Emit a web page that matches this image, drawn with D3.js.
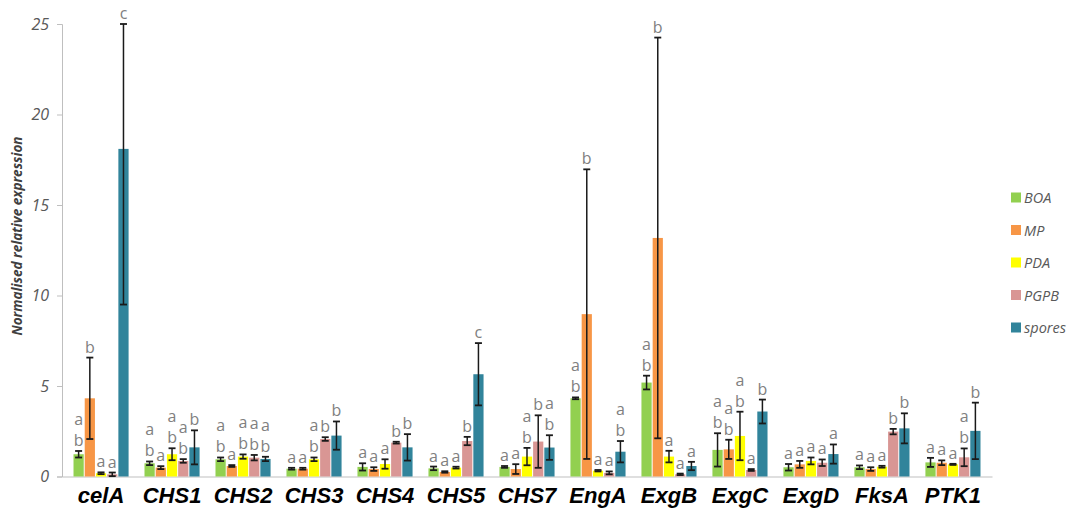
<!DOCTYPE html>
<html>
<head>
<meta charset="utf-8">
<script src="https://cdn.jsdelivr.net/npm/d3@7"></script>
<style>
  body { margin: 0; background: #fff; }
  svg { display: block; }
</style>
</head>
<body>
<svg id="chart" width="1069" height="515"></svg>
<script>
const categories = ["celA","CHS1","CHS2","CHS3","CHS4","CHS5","CHS7","EngA","ExgB","ExgC","ExgD","FksA","PTK1"];
const seriesNames = ["BOA","MP","PDA","PGPB","spores"];
const seriesColors = ["#92D050","#F79646","#FFFF00","#D99694","#31849B"];
const yTicks = [0,5,10,15,20,25];

// mean values per series (order of categories)
const BOA    = [1.23,0.73,0.95,0.43,0.53,0.45,0.53,4.32,5.19,1.47,0.51,0.51,0.78];
const MP     = [4.32,0.49,0.58,0.43,0.41,0.25,0.41,8.97,13.18,1.50,0.67,0.41,0.76];
const PDA    = [0.18,1.23,1.10,0.95,0.69,0.49,1.10,0.32,1.10,2.24,0.86,0.54,0.67];
const PGPB   = [0.12,0.86,1.04,2.07,1.87,1.96,1.93,0.20,0.12,0.36,0.76,2.48,1.06];
const spores = [18.10,1.61,0.97,2.26,1.61,5.65,1.60,1.37,0.58,3.59,1.24,2.66,2.52];

// error bar half-widths
const BOA_err    = [0.18,0.10,0.10,0.05,0.20,0.10,0.05,0.05,0.38,0.92,0.18,0.10,0.25];
const MP_err     = [2.25,0.08,0.05,0.05,0.10,0.04,0.27,8.00,11.07,0.53,0.19,0.10,0.13];
const PDA_err    = [0.05,0.33,0.12,0.10,0.26,0.05,0.48,0.04,0.32,1.34,0.19,0.05,0.03];
const PGPB_err   = [0.10,0.10,0.15,0.10,0.05,0.23,1.45,0.08,0.04,0.05,0.18,0.15,0.49];
const spores_err = [8.60,0.94,0.12,0.78,0.73,1.72,0.68,0.59,0.23,0.66,0.53,0.83,1.56];

// significance letters (top to bottom)
const BOA_sig    = ["ab","ab","ab","a","a","a","a","ab","ab","ab","a","a","a"];
const MP_sig     = ["b","a","a","a","a","a","a","b","b","ab","a","a","a"];
const PDA_sig    = ["a","ab","ab","ab","a","a","ab","a","a","ab","a","a","a"];
const PGPB_sig   = ["a","ab","ab","b","b","b","b","a","a","a","a","b","ab"];
const spores_sig = ["c","b","ab","b","b","c","ab","ab","a","b","a","b","b"];

const values = [BOA, MP, PDA, PGPB, spores];
const errors = [BOA_err, MP_err, PDA_err, PGPB_err, spores_err];
const sigs = [BOA_sig, MP_sig, PDA_sig, PGPB_sig, spores_sig];

const svg = d3.select("#chart");
const yMax = 25;
const y = d3.scaleLinear().domain([0, yMax]).range([476.5, 24]);
const x0 = d3.scaleBand().domain(categories).range([62, 992]).paddingInner(0.21).paddingOuter(0.155);
const x1 = d3.scaleBand().domain(seriesNames).range([0, x0.bandwidth()]).padding(0);

// axes
const yAxis = d3.axisLeft(y).tickValues(yTicks).tickSize(5).tickPadding(8).tickFormat(d3.format("d"));
const gy = svg.append("g").attr("transform", "translate(62,0)").call(yAxis);
gy.select(".domain").attr("stroke", "#bfbfbf").attr("stroke-width", 1);
gy.selectAll(".tick line").attr("stroke", "#bfbfbf");
gy.selectAll(".tick text").attr("fill", "#595959").attr("font-family", "'Open Sans', sans-serif")
  .attr("font-style", "italic").attr("font-size", 16);

const xAxis = d3.axisBottom(x0).tickSize(0).tickPadding(11);
const gx = svg.append("g").attr("transform", "translate(0,476.5)").call(xAxis);
gx.select(".domain").attr("stroke", "#bfbfbf").attr("stroke-width", 1);
gx.selectAll(".tick text").attr("fill", "#000").attr("font-family", "'Liberation Sans', Arial, sans-serif")
  .attr("font-style", "italic").attr("font-weight", "bold").attr("font-size", 22);

// y title
svg.append("text")
  .attr("transform", "translate(22,236) rotate(-90)")
  .attr("text-anchor", "middle")
  .attr("font-family", "'Open Sans', sans-serif")
  .attr("font-style", "italic").attr("font-weight", "bold").attr("font-size", 13.5)
  .attr("fill", "#404040")
  .text("Normalised relative expression");

// bars
const groups = svg.append("g").selectAll("g").data(categories).join("g")
  .attr("transform", d => `translate(${x0(d)},0)`);

seriesNames.forEach((s, si) => {
  groups.each(function(cat, ci) {
    const g = d3.select(this);
    const v = values[si][ci], e = errors[si][ci];
    const bx = x1(s), bw = x1.bandwidth();
    const cx = bx + bw / 2;
    g.append("rect").attr("x", bx + 0.5).attr("width", bw - 1)
      .attr("y", y(v)).attr("height", y(0) - y(v))
      .attr("fill", seriesColors[si]);
    const top = Math.min(yMax, v + e), bot = Math.max(0, v - e);
    g.append("line").attr("x1", cx).attr("x2", cx).attr("y1", y(top)).attr("y2", y(bot))
      .attr("stroke", "#1a1a1a").attr("stroke-width", 1.5);
    [top, bot].forEach(t => {
      g.append("line").attr("x1", cx - 3.5).attr("x2", cx + 3.5).attr("y1", y(t)).attr("y2", y(t))
        .attr("stroke", "#1a1a1a").attr("stroke-width", 1.8);
    });
    const letters = sigs[si][ci].split("");
    const baseY = y(top) - 5;
    letters.slice().reverse().forEach((L, li) => {
      g.append("text").attr("x", cx).attr("y", baseY - li * 21)
        .attr("text-anchor", "middle")
        .attr("font-family", "'Open Sans', sans-serif").attr("font-size", 16)
        .attr("fill", "#808080").text(L);
    });
  });
});

// legend
const legend = svg.append("g");
seriesNames.forEach((s, i) => {
  const ly = 198 + i * 32.5;
  legend.append("rect").attr("x", 1011).attr("y", ly - 5.5).attr("width", 10).attr("height", 10)
    .attr("fill", seriesColors[i]);
  legend.append("text").attr("x", 1024).attr("y", ly + 5)
    .attr("font-family", "'Open Sans', sans-serif").attr("font-style", "italic").attr("font-size", 14.5)
    .attr("fill", "#595959").text(s);
});
</script>
</body>
</html>
